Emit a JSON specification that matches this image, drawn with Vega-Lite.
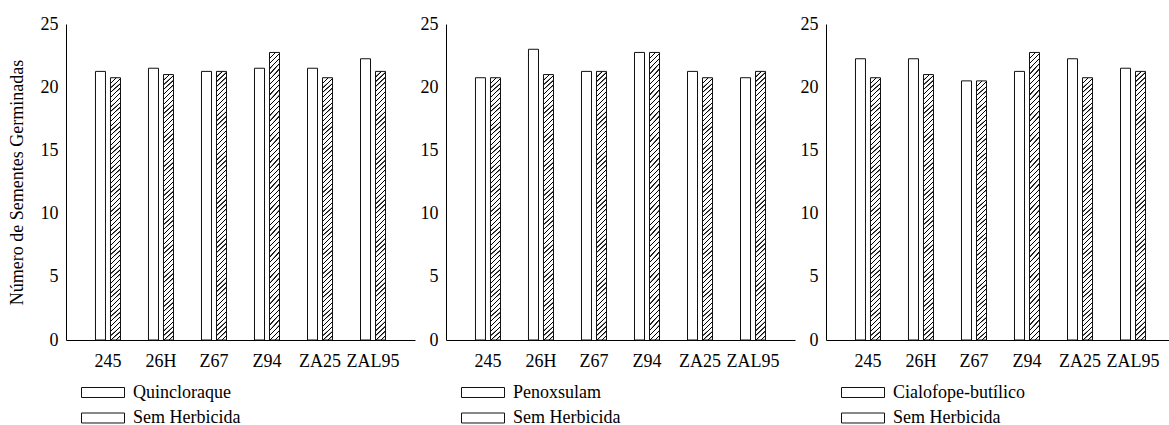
{
"$schema": "https://vega.github.io/schema/vega-lite/v6.json",
"background": "white",
"padding": {"left": 8, "top": 15, "right": 0, "bottom": 0},
"data": {"values": [
{"painel": 1, "cultivar": "245", "tratamento": "Quincloraque", "valor": 21.25},
{"painel": 1, "cultivar": "26H", "tratamento": "Quincloraque", "valor": 21.5},
{"painel": 1, "cultivar": "Z67", "tratamento": "Quincloraque", "valor": 21.25},
{"painel": 1, "cultivar": "Z94", "tratamento": "Quincloraque", "valor": 21.5},
{"painel": 1, "cultivar": "ZA25", "tratamento": "Quincloraque", "valor": 21.5},
{"painel": 1, "cultivar": "ZAL95", "tratamento": "Quincloraque", "valor": 22.25},
{"painel": 1, "cultivar": "245", "tratamento": "Sem Herbicida", "valor": 20.75},
{"painel": 1, "cultivar": "26H", "tratamento": "Sem Herbicida", "valor": 21.0},
{"painel": 1, "cultivar": "Z67", "tratamento": "Sem Herbicida", "valor": 21.25},
{"painel": 1, "cultivar": "Z94", "tratamento": "Sem Herbicida", "valor": 22.75},
{"painel": 1, "cultivar": "ZA25", "tratamento": "Sem Herbicida", "valor": 20.75},
{"painel": 1, "cultivar": "ZAL95", "tratamento": "Sem Herbicida", "valor": 21.25},
{"painel": 2, "cultivar": "245", "tratamento": "Penoxsulam", "valor": 20.75},
{"painel": 2, "cultivar": "26H", "tratamento": "Penoxsulam", "valor": 23.0},
{"painel": 2, "cultivar": "Z67", "tratamento": "Penoxsulam", "valor": 21.25},
{"painel": 2, "cultivar": "Z94", "tratamento": "Penoxsulam", "valor": 22.75},
{"painel": 2, "cultivar": "ZA25", "tratamento": "Penoxsulam", "valor": 21.25},
{"painel": 2, "cultivar": "ZAL95", "tratamento": "Penoxsulam", "valor": 20.75},
{"painel": 2, "cultivar": "245", "tratamento": "Sem Herbicida", "valor": 20.75},
{"painel": 2, "cultivar": "26H", "tratamento": "Sem Herbicida", "valor": 21.0},
{"painel": 2, "cultivar": "Z67", "tratamento": "Sem Herbicida", "valor": 21.25},
{"painel": 2, "cultivar": "Z94", "tratamento": "Sem Herbicida", "valor": 22.75},
{"painel": 2, "cultivar": "ZA25", "tratamento": "Sem Herbicida", "valor": 20.75},
{"painel": 2, "cultivar": "ZAL95", "tratamento": "Sem Herbicida", "valor": 21.25},
{"painel": 3, "cultivar": "245", "tratamento": "Cialofope-butílico", "valor": 22.25},
{"painel": 3, "cultivar": "26H", "tratamento": "Cialofope-butílico", "valor": 22.25},
{"painel": 3, "cultivar": "Z67", "tratamento": "Cialofope-butílico", "valor": 20.5},
{"painel": 3, "cultivar": "Z94", "tratamento": "Cialofope-butílico", "valor": 21.25},
{"painel": 3, "cultivar": "ZA25", "tratamento": "Cialofope-butílico", "valor": 22.25},
{"painel": 3, "cultivar": "ZAL95", "tratamento": "Cialofope-butílico", "valor": 21.5},
{"painel": 3, "cultivar": "245", "tratamento": "Sem Herbicida", "valor": 20.75},
{"painel": 3, "cultivar": "26H", "tratamento": "Sem Herbicida", "valor": 21.0},
{"painel": 3, "cultivar": "Z67", "tratamento": "Sem Herbicida", "valor": 20.5},
{"painel": 3, "cultivar": "Z94", "tratamento": "Sem Herbicida", "valor": 22.75},
{"painel": 3, "cultivar": "ZA25", "tratamento": "Sem Herbicida", "valor": 20.75},
{"painel": 3, "cultivar": "ZAL95", "tratamento": "Sem Herbicida", "valor": 21.25}
]},
"spacing": 31,
"bounds": "flush",
"resolve": {"scale": {"fill": "independent", "x": "independent", "y": "independent", "xOffset": "independent"}},
"hconcat": [
{
"width": 349, "height": 316,
"transform": [{"filter": "datum.painel === 1"}],
"mark": {"type": "bar", "stroke": "#111", "strokeWidth": 1},
"encoding": {
"x": {"field": "cultivar", "type": "nominal", "sort": ["245","26H","Z67","Z94","ZA25","ZAL95"], "scale": {"paddingInner": 0.528, "paddingOuter": 0.556}, "axis": {"title": null, "labelAngle": 0, "labelPadding": 12, "labelFont": "Liberation Serif", "labelFontSize": 18, "labelColor": "#000"}},
"xOffset": {"field": "tratamento", "type": "nominal", "scale": {"paddingInner": 0.3333, "paddingOuter": 0}},
"y": {"field": "valor", "type": "quantitative", "scale": {"domain": [0, 25]}, "axis": {"values": [0,5,10,15,20,25], "title": "Número de Sementes Germinadas", "labelPadding": 8, "titlePadding": 14, "labelFont": "Liberation Serif", "labelFontSize": 18, "labelColor": "#000"}},
"fill": {"condition": {"test": "datum.tratamento === 'Sem Herbicida'", "value": {"gradient": "linear", "x1": 0, "y1": 0, "x2": 0.0396, "y2": 1.0894, "stops": [
{"offset":0,"color":"#fff"},{"offset":0.001,"color":"#000"},{"offset":0.004,"color":"#000"},{"offset":0.005,"color":"#fff"},
{"offset":0.0167,"color":"#fff"},{"offset":0.0177,"color":"#000"},{"offset":0.0207,"color":"#000"},{"offset":0.0217,"color":"#fff"},
{"offset":0.0333,"color":"#fff"},{"offset":0.0343,"color":"#000"},{"offset":0.0373,"color":"#000"},{"offset":0.0383,"color":"#fff"},
{"offset":0.05,"color":"#fff"},{"offset":0.051,"color":"#000"},{"offset":0.054,"color":"#000"},{"offset":0.055,"color":"#fff"},
{"offset":0.0667,"color":"#fff"},{"offset":0.0677,"color":"#000"},{"offset":0.0707,"color":"#000"},{"offset":0.0717,"color":"#fff"},
{"offset":0.0833,"color":"#fff"},{"offset":0.0843,"color":"#000"},{"offset":0.0873,"color":"#000"},{"offset":0.0883,"color":"#fff"},
{"offset":0.1,"color":"#fff"},{"offset":0.101,"color":"#000"},{"offset":0.104,"color":"#000"},{"offset":0.105,"color":"#fff"},
{"offset":0.1167,"color":"#fff"},{"offset":0.1177,"color":"#000"},{"offset":0.1207,"color":"#000"},{"offset":0.1217,"color":"#fff"},
{"offset":0.1333,"color":"#fff"},{"offset":0.1343,"color":"#000"},{"offset":0.1373,"color":"#000"},{"offset":0.1383,"color":"#fff"},
{"offset":0.15,"color":"#fff"},{"offset":0.151,"color":"#000"},{"offset":0.154,"color":"#000"},{"offset":0.155,"color":"#fff"},
{"offset":0.1667,"color":"#fff"},{"offset":0.1677,"color":"#000"},{"offset":0.1707,"color":"#000"},{"offset":0.1717,"color":"#fff"},
{"offset":0.1833,"color":"#fff"},{"offset":0.1843,"color":"#000"},{"offset":0.1873,"color":"#000"},{"offset":0.1883,"color":"#fff"},
{"offset":0.2,"color":"#fff"},{"offset":0.201,"color":"#000"},{"offset":0.204,"color":"#000"},{"offset":0.205,"color":"#fff"},
{"offset":0.2167,"color":"#fff"},{"offset":0.2177,"color":"#000"},{"offset":0.2207,"color":"#000"},{"offset":0.2217,"color":"#fff"},
{"offset":0.2333,"color":"#fff"},{"offset":0.2343,"color":"#000"},{"offset":0.2373,"color":"#000"},{"offset":0.2383,"color":"#fff"},
{"offset":0.25,"color":"#fff"},{"offset":0.251,"color":"#000"},{"offset":0.254,"color":"#000"},{"offset":0.255,"color":"#fff"},
{"offset":0.2667,"color":"#fff"},{"offset":0.2677,"color":"#000"},{"offset":0.2707,"color":"#000"},{"offset":0.2717,"color":"#fff"},
{"offset":0.2833,"color":"#fff"},{"offset":0.2843,"color":"#000"},{"offset":0.2873,"color":"#000"},{"offset":0.2883,"color":"#fff"},
{"offset":0.3,"color":"#fff"},{"offset":0.301,"color":"#000"},{"offset":0.304,"color":"#000"},{"offset":0.305,"color":"#fff"},
{"offset":0.3167,"color":"#fff"},{"offset":0.3177,"color":"#000"},{"offset":0.3207,"color":"#000"},{"offset":0.3217,"color":"#fff"},
{"offset":0.3333,"color":"#fff"},{"offset":0.3343,"color":"#000"},{"offset":0.3373,"color":"#000"},{"offset":0.3383,"color":"#fff"},
{"offset":0.35,"color":"#fff"},{"offset":0.351,"color":"#000"},{"offset":0.354,"color":"#000"},{"offset":0.355,"color":"#fff"},
{"offset":0.3667,"color":"#fff"},{"offset":0.3677,"color":"#000"},{"offset":0.3707,"color":"#000"},{"offset":0.3717,"color":"#fff"},
{"offset":0.3833,"color":"#fff"},{"offset":0.3843,"color":"#000"},{"offset":0.3873,"color":"#000"},{"offset":0.3883,"color":"#fff"},
{"offset":0.4,"color":"#fff"},{"offset":0.401,"color":"#000"},{"offset":0.404,"color":"#000"},{"offset":0.405,"color":"#fff"},
{"offset":0.4167,"color":"#fff"},{"offset":0.4177,"color":"#000"},{"offset":0.4207,"color":"#000"},{"offset":0.4217,"color":"#fff"},
{"offset":0.4333,"color":"#fff"},{"offset":0.4343,"color":"#000"},{"offset":0.4373,"color":"#000"},{"offset":0.4383,"color":"#fff"},
{"offset":0.45,"color":"#fff"},{"offset":0.451,"color":"#000"},{"offset":0.454,"color":"#000"},{"offset":0.455,"color":"#fff"},
{"offset":0.4667,"color":"#fff"},{"offset":0.4677,"color":"#000"},{"offset":0.4707,"color":"#000"},{"offset":0.4717,"color":"#fff"},
{"offset":0.4833,"color":"#fff"},{"offset":0.4843,"color":"#000"},{"offset":0.4873,"color":"#000"},{"offset":0.4883,"color":"#fff"},
{"offset":0.5,"color":"#fff"},{"offset":0.501,"color":"#000"},{"offset":0.504,"color":"#000"},{"offset":0.505,"color":"#fff"},
{"offset":0.5167,"color":"#fff"},{"offset":0.5177,"color":"#000"},{"offset":0.5207,"color":"#000"},{"offset":0.5217,"color":"#fff"},
{"offset":0.5333,"color":"#fff"},{"offset":0.5343,"color":"#000"},{"offset":0.5373,"color":"#000"},{"offset":0.5383,"color":"#fff"},
{"offset":0.55,"color":"#fff"},{"offset":0.551,"color":"#000"},{"offset":0.554,"color":"#000"},{"offset":0.555,"color":"#fff"},
{"offset":0.5667,"color":"#fff"},{"offset":0.5677,"color":"#000"},{"offset":0.5707,"color":"#000"},{"offset":0.5717,"color":"#fff"},
{"offset":0.5833,"color":"#fff"},{"offset":0.5843,"color":"#000"},{"offset":0.5873,"color":"#000"},{"offset":0.5883,"color":"#fff"},
{"offset":0.6,"color":"#fff"},{"offset":0.601,"color":"#000"},{"offset":0.604,"color":"#000"},{"offset":0.605,"color":"#fff"},
{"offset":0.6167,"color":"#fff"},{"offset":0.6177,"color":"#000"},{"offset":0.6207,"color":"#000"},{"offset":0.6217,"color":"#fff"},
{"offset":0.6333,"color":"#fff"},{"offset":0.6343,"color":"#000"},{"offset":0.6373,"color":"#000"},{"offset":0.6383,"color":"#fff"},
{"offset":0.65,"color":"#fff"},{"offset":0.651,"color":"#000"},{"offset":0.654,"color":"#000"},{"offset":0.655,"color":"#fff"},
{"offset":0.6667,"color":"#fff"},{"offset":0.6677,"color":"#000"},{"offset":0.6707,"color":"#000"},{"offset":0.6717,"color":"#fff"},
{"offset":0.6833,"color":"#fff"},{"offset":0.6843,"color":"#000"},{"offset":0.6873,"color":"#000"},{"offset":0.6883,"color":"#fff"},
{"offset":0.7,"color":"#fff"},{"offset":0.701,"color":"#000"},{"offset":0.704,"color":"#000"},{"offset":0.705,"color":"#fff"},
{"offset":0.7167,"color":"#fff"},{"offset":0.7177,"color":"#000"},{"offset":0.7207,"color":"#000"},{"offset":0.7217,"color":"#fff"},
{"offset":0.7333,"color":"#fff"},{"offset":0.7343,"color":"#000"},{"offset":0.7373,"color":"#000"},{"offset":0.7383,"color":"#fff"},
{"offset":0.75,"color":"#fff"},{"offset":0.751,"color":"#000"},{"offset":0.754,"color":"#000"},{"offset":0.755,"color":"#fff"},
{"offset":0.7667,"color":"#fff"},{"offset":0.7677,"color":"#000"},{"offset":0.7707,"color":"#000"},{"offset":0.7717,"color":"#fff"},
{"offset":0.7833,"color":"#fff"},{"offset":0.7843,"color":"#000"},{"offset":0.7873,"color":"#000"},{"offset":0.7883,"color":"#fff"},
{"offset":0.8,"color":"#fff"},{"offset":0.801,"color":"#000"},{"offset":0.804,"color":"#000"},{"offset":0.805,"color":"#fff"},
{"offset":0.8167,"color":"#fff"},{"offset":0.8177,"color":"#000"},{"offset":0.8207,"color":"#000"},{"offset":0.8217,"color":"#fff"},
{"offset":0.8333,"color":"#fff"},{"offset":0.8343,"color":"#000"},{"offset":0.8373,"color":"#000"},{"offset":0.8383,"color":"#fff"},
{"offset":0.85,"color":"#fff"},{"offset":0.851,"color":"#000"},{"offset":0.854,"color":"#000"},{"offset":0.855,"color":"#fff"},
{"offset":0.8667,"color":"#fff"},{"offset":0.8677,"color":"#000"},{"offset":0.8707,"color":"#000"},{"offset":0.8717,"color":"#fff"},
{"offset":0.8833,"color":"#fff"},{"offset":0.8843,"color":"#000"},{"offset":0.8873,"color":"#000"},{"offset":0.8883,"color":"#fff"},
{"offset":0.9,"color":"#fff"},{"offset":0.901,"color":"#000"},{"offset":0.904,"color":"#000"},{"offset":0.905,"color":"#fff"},
{"offset":0.9167,"color":"#fff"},{"offset":0.9177,"color":"#000"},{"offset":0.9207,"color":"#000"},{"offset":0.9217,"color":"#fff"},
{"offset":0.9333,"color":"#fff"},{"offset":0.9343,"color":"#000"},{"offset":0.9373,"color":"#000"},{"offset":0.9383,"color":"#fff"},
{"offset":0.95,"color":"#fff"},{"offset":0.951,"color":"#000"},{"offset":0.954,"color":"#000"},{"offset":0.955,"color":"#fff"},
{"offset":0.9667,"color":"#fff"},{"offset":0.9677,"color":"#000"},{"offset":0.9707,"color":"#000"},{"offset":0.9717,"color":"#fff"},
{"offset":0.9833,"color":"#fff"},{"offset":0.9843,"color":"#000"},{"offset":0.9873,"color":"#000"},{"offset":0.9883,"color":"#fff"},
{"offset":1,"color":"#fff"}]}},
"field": "tratamento", "type": "nominal", "scale": {"range": ["#fff", "#fff"]}, "legend": {"title": null, "orient": "bottom", "direction": "vertical", "symbolType": "M-2,-0.465H2V0.465H-2Z", "symbolSize": 462.25, "symbolStrokeColor": "#111", "symbolStrokeWidth": 1, "symbolOffset": 25.5, "labelOffset": 18.5, "labelFont": "Liberation Serif", "labelFontSize": 18, "labelColor": "#000", "rowPadding": 4.5, "offset": 11,
"encode": {"symbols": {"update": {"shape": {"value": "M-2,-0.465H2V0.465H-2Z"}, "size": {"value": 462.25}, "stroke": {"value": "#111"}, "strokeWidth": {"value": 1}, "opacity": {"value": 1}, "fillOpacity": {"value": 1}, "strokeOpacity": {"value": 1}, "fill": {"condition": {"test": "datum.value === 'Sem Herbicida'", "value": {"gradient": "linear", "x1": 0, "y1": 0, "x2": 1.2135, "y2": 0.2822, "stops": [
{"offset":0,"color":"#fff"},{"offset":0.0055,"color":"#000"},{"offset":0.0218,"color":"#000"},{"offset":0.0273,"color":"#fff"},
{"offset":0.0909,"color":"#fff"},{"offset":0.0964,"color":"#000"},{"offset":0.1127,"color":"#000"},{"offset":0.1182,"color":"#fff"},
{"offset":0.1818,"color":"#fff"},{"offset":0.1873,"color":"#000"},{"offset":0.2036,"color":"#000"},{"offset":0.2091,"color":"#fff"},
{"offset":0.2727,"color":"#fff"},{"offset":0.2782,"color":"#000"},{"offset":0.2945,"color":"#000"},{"offset":0.3,"color":"#fff"},
{"offset":0.3636,"color":"#fff"},{"offset":0.3691,"color":"#000"},{"offset":0.3854,"color":"#000"},{"offset":0.3909,"color":"#fff"},
{"offset":0.4545,"color":"#fff"},{"offset":0.46,"color":"#000"},{"offset":0.4763,"color":"#000"},{"offset":0.4818,"color":"#fff"},
{"offset":0.5455,"color":"#fff"},{"offset":0.551,"color":"#000"},{"offset":0.5673,"color":"#000"},{"offset":0.5728,"color":"#fff"},
{"offset":0.6364,"color":"#fff"},{"offset":0.6419,"color":"#000"},{"offset":0.6582,"color":"#000"},{"offset":0.6637,"color":"#fff"},
{"offset":0.7273,"color":"#fff"},{"offset":0.7328,"color":"#000"},{"offset":0.7491,"color":"#000"},{"offset":0.7546,"color":"#fff"},
{"offset":0.8182,"color":"#fff"},{"offset":0.8237,"color":"#000"},{"offset":0.84,"color":"#000"},{"offset":0.8455,"color":"#fff"},
{"offset":0.9091,"color":"#fff"},{"offset":0.9146,"color":"#000"},{"offset":0.9309,"color":"#000"},{"offset":0.9364,"color":"#fff"},
{"offset":1,"color":"#fff"}]}}, "value": "#fff"}}}}}}
}
},
{
"width": 349, "height": 316,
"transform": [{"filter": "datum.painel === 2"}],
"mark": {"type": "bar", "stroke": "#111", "strokeWidth": 1},
"encoding": {
"x": {"field": "cultivar", "type": "nominal", "sort": ["245","26H","Z67","Z94","ZA25","ZAL95"], "scale": {"paddingInner": 0.528, "paddingOuter": 0.556}, "axis": {"title": null, "labelAngle": 0, "labelPadding": 12, "labelFont": "Liberation Serif", "labelFontSize": 18, "labelColor": "#000"}},
"xOffset": {"field": "tratamento", "type": "nominal", "scale": {"paddingInner": 0.3333, "paddingOuter": 0}},
"y": {"field": "valor", "type": "quantitative", "scale": {"domain": [0, 25]}, "axis": {"values": [0,5,10,15,20,25], "title": null, "labelPadding": 8, "labelFont": "Liberation Serif", "labelFontSize": 18, "labelColor": "#000"}},
"fill": {"condition": {"test": "datum.tratamento === 'Sem Herbicida'", "value": {"gradient": "linear", "x1": 0, "y1": 0, "x2": 0.0396, "y2": 1.0894, "stops": [
{"offset":0,"color":"#fff"},{"offset":0.001,"color":"#000"},{"offset":0.004,"color":"#000"},{"offset":0.005,"color":"#fff"},
{"offset":0.0167,"color":"#fff"},{"offset":0.0177,"color":"#000"},{"offset":0.0207,"color":"#000"},{"offset":0.0217,"color":"#fff"},
{"offset":0.0333,"color":"#fff"},{"offset":0.0343,"color":"#000"},{"offset":0.0373,"color":"#000"},{"offset":0.0383,"color":"#fff"},
{"offset":0.05,"color":"#fff"},{"offset":0.051,"color":"#000"},{"offset":0.054,"color":"#000"},{"offset":0.055,"color":"#fff"},
{"offset":0.0667,"color":"#fff"},{"offset":0.0677,"color":"#000"},{"offset":0.0707,"color":"#000"},{"offset":0.0717,"color":"#fff"},
{"offset":0.0833,"color":"#fff"},{"offset":0.0843,"color":"#000"},{"offset":0.0873,"color":"#000"},{"offset":0.0883,"color":"#fff"},
{"offset":0.1,"color":"#fff"},{"offset":0.101,"color":"#000"},{"offset":0.104,"color":"#000"},{"offset":0.105,"color":"#fff"},
{"offset":0.1167,"color":"#fff"},{"offset":0.1177,"color":"#000"},{"offset":0.1207,"color":"#000"},{"offset":0.1217,"color":"#fff"},
{"offset":0.1333,"color":"#fff"},{"offset":0.1343,"color":"#000"},{"offset":0.1373,"color":"#000"},{"offset":0.1383,"color":"#fff"},
{"offset":0.15,"color":"#fff"},{"offset":0.151,"color":"#000"},{"offset":0.154,"color":"#000"},{"offset":0.155,"color":"#fff"},
{"offset":0.1667,"color":"#fff"},{"offset":0.1677,"color":"#000"},{"offset":0.1707,"color":"#000"},{"offset":0.1717,"color":"#fff"},
{"offset":0.1833,"color":"#fff"},{"offset":0.1843,"color":"#000"},{"offset":0.1873,"color":"#000"},{"offset":0.1883,"color":"#fff"},
{"offset":0.2,"color":"#fff"},{"offset":0.201,"color":"#000"},{"offset":0.204,"color":"#000"},{"offset":0.205,"color":"#fff"},
{"offset":0.2167,"color":"#fff"},{"offset":0.2177,"color":"#000"},{"offset":0.2207,"color":"#000"},{"offset":0.2217,"color":"#fff"},
{"offset":0.2333,"color":"#fff"},{"offset":0.2343,"color":"#000"},{"offset":0.2373,"color":"#000"},{"offset":0.2383,"color":"#fff"},
{"offset":0.25,"color":"#fff"},{"offset":0.251,"color":"#000"},{"offset":0.254,"color":"#000"},{"offset":0.255,"color":"#fff"},
{"offset":0.2667,"color":"#fff"},{"offset":0.2677,"color":"#000"},{"offset":0.2707,"color":"#000"},{"offset":0.2717,"color":"#fff"},
{"offset":0.2833,"color":"#fff"},{"offset":0.2843,"color":"#000"},{"offset":0.2873,"color":"#000"},{"offset":0.2883,"color":"#fff"},
{"offset":0.3,"color":"#fff"},{"offset":0.301,"color":"#000"},{"offset":0.304,"color":"#000"},{"offset":0.305,"color":"#fff"},
{"offset":0.3167,"color":"#fff"},{"offset":0.3177,"color":"#000"},{"offset":0.3207,"color":"#000"},{"offset":0.3217,"color":"#fff"},
{"offset":0.3333,"color":"#fff"},{"offset":0.3343,"color":"#000"},{"offset":0.3373,"color":"#000"},{"offset":0.3383,"color":"#fff"},
{"offset":0.35,"color":"#fff"},{"offset":0.351,"color":"#000"},{"offset":0.354,"color":"#000"},{"offset":0.355,"color":"#fff"},
{"offset":0.3667,"color":"#fff"},{"offset":0.3677,"color":"#000"},{"offset":0.3707,"color":"#000"},{"offset":0.3717,"color":"#fff"},
{"offset":0.3833,"color":"#fff"},{"offset":0.3843,"color":"#000"},{"offset":0.3873,"color":"#000"},{"offset":0.3883,"color":"#fff"},
{"offset":0.4,"color":"#fff"},{"offset":0.401,"color":"#000"},{"offset":0.404,"color":"#000"},{"offset":0.405,"color":"#fff"},
{"offset":0.4167,"color":"#fff"},{"offset":0.4177,"color":"#000"},{"offset":0.4207,"color":"#000"},{"offset":0.4217,"color":"#fff"},
{"offset":0.4333,"color":"#fff"},{"offset":0.4343,"color":"#000"},{"offset":0.4373,"color":"#000"},{"offset":0.4383,"color":"#fff"},
{"offset":0.45,"color":"#fff"},{"offset":0.451,"color":"#000"},{"offset":0.454,"color":"#000"},{"offset":0.455,"color":"#fff"},
{"offset":0.4667,"color":"#fff"},{"offset":0.4677,"color":"#000"},{"offset":0.4707,"color":"#000"},{"offset":0.4717,"color":"#fff"},
{"offset":0.4833,"color":"#fff"},{"offset":0.4843,"color":"#000"},{"offset":0.4873,"color":"#000"},{"offset":0.4883,"color":"#fff"},
{"offset":0.5,"color":"#fff"},{"offset":0.501,"color":"#000"},{"offset":0.504,"color":"#000"},{"offset":0.505,"color":"#fff"},
{"offset":0.5167,"color":"#fff"},{"offset":0.5177,"color":"#000"},{"offset":0.5207,"color":"#000"},{"offset":0.5217,"color":"#fff"},
{"offset":0.5333,"color":"#fff"},{"offset":0.5343,"color":"#000"},{"offset":0.5373,"color":"#000"},{"offset":0.5383,"color":"#fff"},
{"offset":0.55,"color":"#fff"},{"offset":0.551,"color":"#000"},{"offset":0.554,"color":"#000"},{"offset":0.555,"color":"#fff"},
{"offset":0.5667,"color":"#fff"},{"offset":0.5677,"color":"#000"},{"offset":0.5707,"color":"#000"},{"offset":0.5717,"color":"#fff"},
{"offset":0.5833,"color":"#fff"},{"offset":0.5843,"color":"#000"},{"offset":0.5873,"color":"#000"},{"offset":0.5883,"color":"#fff"},
{"offset":0.6,"color":"#fff"},{"offset":0.601,"color":"#000"},{"offset":0.604,"color":"#000"},{"offset":0.605,"color":"#fff"},
{"offset":0.6167,"color":"#fff"},{"offset":0.6177,"color":"#000"},{"offset":0.6207,"color":"#000"},{"offset":0.6217,"color":"#fff"},
{"offset":0.6333,"color":"#fff"},{"offset":0.6343,"color":"#000"},{"offset":0.6373,"color":"#000"},{"offset":0.6383,"color":"#fff"},
{"offset":0.65,"color":"#fff"},{"offset":0.651,"color":"#000"},{"offset":0.654,"color":"#000"},{"offset":0.655,"color":"#fff"},
{"offset":0.6667,"color":"#fff"},{"offset":0.6677,"color":"#000"},{"offset":0.6707,"color":"#000"},{"offset":0.6717,"color":"#fff"},
{"offset":0.6833,"color":"#fff"},{"offset":0.6843,"color":"#000"},{"offset":0.6873,"color":"#000"},{"offset":0.6883,"color":"#fff"},
{"offset":0.7,"color":"#fff"},{"offset":0.701,"color":"#000"},{"offset":0.704,"color":"#000"},{"offset":0.705,"color":"#fff"},
{"offset":0.7167,"color":"#fff"},{"offset":0.7177,"color":"#000"},{"offset":0.7207,"color":"#000"},{"offset":0.7217,"color":"#fff"},
{"offset":0.7333,"color":"#fff"},{"offset":0.7343,"color":"#000"},{"offset":0.7373,"color":"#000"},{"offset":0.7383,"color":"#fff"},
{"offset":0.75,"color":"#fff"},{"offset":0.751,"color":"#000"},{"offset":0.754,"color":"#000"},{"offset":0.755,"color":"#fff"},
{"offset":0.7667,"color":"#fff"},{"offset":0.7677,"color":"#000"},{"offset":0.7707,"color":"#000"},{"offset":0.7717,"color":"#fff"},
{"offset":0.7833,"color":"#fff"},{"offset":0.7843,"color":"#000"},{"offset":0.7873,"color":"#000"},{"offset":0.7883,"color":"#fff"},
{"offset":0.8,"color":"#fff"},{"offset":0.801,"color":"#000"},{"offset":0.804,"color":"#000"},{"offset":0.805,"color":"#fff"},
{"offset":0.8167,"color":"#fff"},{"offset":0.8177,"color":"#000"},{"offset":0.8207,"color":"#000"},{"offset":0.8217,"color":"#fff"},
{"offset":0.8333,"color":"#fff"},{"offset":0.8343,"color":"#000"},{"offset":0.8373,"color":"#000"},{"offset":0.8383,"color":"#fff"},
{"offset":0.85,"color":"#fff"},{"offset":0.851,"color":"#000"},{"offset":0.854,"color":"#000"},{"offset":0.855,"color":"#fff"},
{"offset":0.8667,"color":"#fff"},{"offset":0.8677,"color":"#000"},{"offset":0.8707,"color":"#000"},{"offset":0.8717,"color":"#fff"},
{"offset":0.8833,"color":"#fff"},{"offset":0.8843,"color":"#000"},{"offset":0.8873,"color":"#000"},{"offset":0.8883,"color":"#fff"},
{"offset":0.9,"color":"#fff"},{"offset":0.901,"color":"#000"},{"offset":0.904,"color":"#000"},{"offset":0.905,"color":"#fff"},
{"offset":0.9167,"color":"#fff"},{"offset":0.9177,"color":"#000"},{"offset":0.9207,"color":"#000"},{"offset":0.9217,"color":"#fff"},
{"offset":0.9333,"color":"#fff"},{"offset":0.9343,"color":"#000"},{"offset":0.9373,"color":"#000"},{"offset":0.9383,"color":"#fff"},
{"offset":0.95,"color":"#fff"},{"offset":0.951,"color":"#000"},{"offset":0.954,"color":"#000"},{"offset":0.955,"color":"#fff"},
{"offset":0.9667,"color":"#fff"},{"offset":0.9677,"color":"#000"},{"offset":0.9707,"color":"#000"},{"offset":0.9717,"color":"#fff"},
{"offset":0.9833,"color":"#fff"},{"offset":0.9843,"color":"#000"},{"offset":0.9873,"color":"#000"},{"offset":0.9883,"color":"#fff"},
{"offset":1,"color":"#fff"}]}},
"field": "tratamento", "type": "nominal", "scale": {"range": ["#fff", "#fff"]}, "legend": {"title": null, "orient": "bottom", "direction": "vertical", "symbolType": "M-2,-0.465H2V0.465H-2Z", "symbolSize": 462.25, "symbolStrokeColor": "#111", "symbolStrokeWidth": 1, "symbolOffset": 25.5, "labelOffset": 18.5, "labelFont": "Liberation Serif", "labelFontSize": 18, "labelColor": "#000", "rowPadding": 4.5, "offset": 11,
"encode": {"symbols": {"update": {"shape": {"value": "M-2,-0.465H2V0.465H-2Z"}, "size": {"value": 462.25}, "stroke": {"value": "#111"}, "strokeWidth": {"value": 1}, "opacity": {"value": 1}, "fillOpacity": {"value": 1}, "strokeOpacity": {"value": 1}, "fill": {"condition": {"test": "datum.value === 'Sem Herbicida'", "value": {"gradient": "linear", "x1": 0, "y1": 0, "x2": 1.2135, "y2": 0.2822, "stops": [
{"offset":0,"color":"#fff"},{"offset":0.0055,"color":"#000"},{"offset":0.0218,"color":"#000"},{"offset":0.0273,"color":"#fff"},
{"offset":0.0909,"color":"#fff"},{"offset":0.0964,"color":"#000"},{"offset":0.1127,"color":"#000"},{"offset":0.1182,"color":"#fff"},
{"offset":0.1818,"color":"#fff"},{"offset":0.1873,"color":"#000"},{"offset":0.2036,"color":"#000"},{"offset":0.2091,"color":"#fff"},
{"offset":0.2727,"color":"#fff"},{"offset":0.2782,"color":"#000"},{"offset":0.2945,"color":"#000"},{"offset":0.3,"color":"#fff"},
{"offset":0.3636,"color":"#fff"},{"offset":0.3691,"color":"#000"},{"offset":0.3854,"color":"#000"},{"offset":0.3909,"color":"#fff"},
{"offset":0.4545,"color":"#fff"},{"offset":0.46,"color":"#000"},{"offset":0.4763,"color":"#000"},{"offset":0.4818,"color":"#fff"},
{"offset":0.5455,"color":"#fff"},{"offset":0.551,"color":"#000"},{"offset":0.5673,"color":"#000"},{"offset":0.5728,"color":"#fff"},
{"offset":0.6364,"color":"#fff"},{"offset":0.6419,"color":"#000"},{"offset":0.6582,"color":"#000"},{"offset":0.6637,"color":"#fff"},
{"offset":0.7273,"color":"#fff"},{"offset":0.7328,"color":"#000"},{"offset":0.7491,"color":"#000"},{"offset":0.7546,"color":"#fff"},
{"offset":0.8182,"color":"#fff"},{"offset":0.8237,"color":"#000"},{"offset":0.84,"color":"#000"},{"offset":0.8455,"color":"#fff"},
{"offset":0.9091,"color":"#fff"},{"offset":0.9146,"color":"#000"},{"offset":0.9309,"color":"#000"},{"offset":0.9364,"color":"#fff"},
{"offset":1,"color":"#fff"}]}}, "value": "#fff"}}}}}}
}
},
{
"width": 349, "height": 316,
"transform": [{"filter": "datum.painel === 3"}],
"mark": {"type": "bar", "stroke": "#111", "strokeWidth": 1},
"encoding": {
"x": {"field": "cultivar", "type": "nominal", "sort": ["245","26H","Z67","Z94","ZA25","ZAL95"], "scale": {"paddingInner": 0.528, "paddingOuter": 0.556}, "axis": {"title": null, "labelAngle": 0, "labelPadding": 12, "labelFont": "Liberation Serif", "labelFontSize": 18, "labelColor": "#000"}},
"xOffset": {"field": "tratamento", "type": "nominal", "scale": {"paddingInner": 0.3333, "paddingOuter": 0}},
"y": {"field": "valor", "type": "quantitative", "scale": {"domain": [0, 25]}, "axis": {"values": [0,5,10,15,20,25], "title": null, "labelPadding": 8, "labelFont": "Liberation Serif", "labelFontSize": 18, "labelColor": "#000"}},
"fill": {"condition": {"test": "datum.tratamento === 'Sem Herbicida'", "value": {"gradient": "linear", "x1": 0, "y1": 0, "x2": 0.0396, "y2": 1.0894, "stops": [
{"offset":0,"color":"#fff"},{"offset":0.001,"color":"#000"},{"offset":0.004,"color":"#000"},{"offset":0.005,"color":"#fff"},
{"offset":0.0167,"color":"#fff"},{"offset":0.0177,"color":"#000"},{"offset":0.0207,"color":"#000"},{"offset":0.0217,"color":"#fff"},
{"offset":0.0333,"color":"#fff"},{"offset":0.0343,"color":"#000"},{"offset":0.0373,"color":"#000"},{"offset":0.0383,"color":"#fff"},
{"offset":0.05,"color":"#fff"},{"offset":0.051,"color":"#000"},{"offset":0.054,"color":"#000"},{"offset":0.055,"color":"#fff"},
{"offset":0.0667,"color":"#fff"},{"offset":0.0677,"color":"#000"},{"offset":0.0707,"color":"#000"},{"offset":0.0717,"color":"#fff"},
{"offset":0.0833,"color":"#fff"},{"offset":0.0843,"color":"#000"},{"offset":0.0873,"color":"#000"},{"offset":0.0883,"color":"#fff"},
{"offset":0.1,"color":"#fff"},{"offset":0.101,"color":"#000"},{"offset":0.104,"color":"#000"},{"offset":0.105,"color":"#fff"},
{"offset":0.1167,"color":"#fff"},{"offset":0.1177,"color":"#000"},{"offset":0.1207,"color":"#000"},{"offset":0.1217,"color":"#fff"},
{"offset":0.1333,"color":"#fff"},{"offset":0.1343,"color":"#000"},{"offset":0.1373,"color":"#000"},{"offset":0.1383,"color":"#fff"},
{"offset":0.15,"color":"#fff"},{"offset":0.151,"color":"#000"},{"offset":0.154,"color":"#000"},{"offset":0.155,"color":"#fff"},
{"offset":0.1667,"color":"#fff"},{"offset":0.1677,"color":"#000"},{"offset":0.1707,"color":"#000"},{"offset":0.1717,"color":"#fff"},
{"offset":0.1833,"color":"#fff"},{"offset":0.1843,"color":"#000"},{"offset":0.1873,"color":"#000"},{"offset":0.1883,"color":"#fff"},
{"offset":0.2,"color":"#fff"},{"offset":0.201,"color":"#000"},{"offset":0.204,"color":"#000"},{"offset":0.205,"color":"#fff"},
{"offset":0.2167,"color":"#fff"},{"offset":0.2177,"color":"#000"},{"offset":0.2207,"color":"#000"},{"offset":0.2217,"color":"#fff"},
{"offset":0.2333,"color":"#fff"},{"offset":0.2343,"color":"#000"},{"offset":0.2373,"color":"#000"},{"offset":0.2383,"color":"#fff"},
{"offset":0.25,"color":"#fff"},{"offset":0.251,"color":"#000"},{"offset":0.254,"color":"#000"},{"offset":0.255,"color":"#fff"},
{"offset":0.2667,"color":"#fff"},{"offset":0.2677,"color":"#000"},{"offset":0.2707,"color":"#000"},{"offset":0.2717,"color":"#fff"},
{"offset":0.2833,"color":"#fff"},{"offset":0.2843,"color":"#000"},{"offset":0.2873,"color":"#000"},{"offset":0.2883,"color":"#fff"},
{"offset":0.3,"color":"#fff"},{"offset":0.301,"color":"#000"},{"offset":0.304,"color":"#000"},{"offset":0.305,"color":"#fff"},
{"offset":0.3167,"color":"#fff"},{"offset":0.3177,"color":"#000"},{"offset":0.3207,"color":"#000"},{"offset":0.3217,"color":"#fff"},
{"offset":0.3333,"color":"#fff"},{"offset":0.3343,"color":"#000"},{"offset":0.3373,"color":"#000"},{"offset":0.3383,"color":"#fff"},
{"offset":0.35,"color":"#fff"},{"offset":0.351,"color":"#000"},{"offset":0.354,"color":"#000"},{"offset":0.355,"color":"#fff"},
{"offset":0.3667,"color":"#fff"},{"offset":0.3677,"color":"#000"},{"offset":0.3707,"color":"#000"},{"offset":0.3717,"color":"#fff"},
{"offset":0.3833,"color":"#fff"},{"offset":0.3843,"color":"#000"},{"offset":0.3873,"color":"#000"},{"offset":0.3883,"color":"#fff"},
{"offset":0.4,"color":"#fff"},{"offset":0.401,"color":"#000"},{"offset":0.404,"color":"#000"},{"offset":0.405,"color":"#fff"},
{"offset":0.4167,"color":"#fff"},{"offset":0.4177,"color":"#000"},{"offset":0.4207,"color":"#000"},{"offset":0.4217,"color":"#fff"},
{"offset":0.4333,"color":"#fff"},{"offset":0.4343,"color":"#000"},{"offset":0.4373,"color":"#000"},{"offset":0.4383,"color":"#fff"},
{"offset":0.45,"color":"#fff"},{"offset":0.451,"color":"#000"},{"offset":0.454,"color":"#000"},{"offset":0.455,"color":"#fff"},
{"offset":0.4667,"color":"#fff"},{"offset":0.4677,"color":"#000"},{"offset":0.4707,"color":"#000"},{"offset":0.4717,"color":"#fff"},
{"offset":0.4833,"color":"#fff"},{"offset":0.4843,"color":"#000"},{"offset":0.4873,"color":"#000"},{"offset":0.4883,"color":"#fff"},
{"offset":0.5,"color":"#fff"},{"offset":0.501,"color":"#000"},{"offset":0.504,"color":"#000"},{"offset":0.505,"color":"#fff"},
{"offset":0.5167,"color":"#fff"},{"offset":0.5177,"color":"#000"},{"offset":0.5207,"color":"#000"},{"offset":0.5217,"color":"#fff"},
{"offset":0.5333,"color":"#fff"},{"offset":0.5343,"color":"#000"},{"offset":0.5373,"color":"#000"},{"offset":0.5383,"color":"#fff"},
{"offset":0.55,"color":"#fff"},{"offset":0.551,"color":"#000"},{"offset":0.554,"color":"#000"},{"offset":0.555,"color":"#fff"},
{"offset":0.5667,"color":"#fff"},{"offset":0.5677,"color":"#000"},{"offset":0.5707,"color":"#000"},{"offset":0.5717,"color":"#fff"},
{"offset":0.5833,"color":"#fff"},{"offset":0.5843,"color":"#000"},{"offset":0.5873,"color":"#000"},{"offset":0.5883,"color":"#fff"},
{"offset":0.6,"color":"#fff"},{"offset":0.601,"color":"#000"},{"offset":0.604,"color":"#000"},{"offset":0.605,"color":"#fff"},
{"offset":0.6167,"color":"#fff"},{"offset":0.6177,"color":"#000"},{"offset":0.6207,"color":"#000"},{"offset":0.6217,"color":"#fff"},
{"offset":0.6333,"color":"#fff"},{"offset":0.6343,"color":"#000"},{"offset":0.6373,"color":"#000"},{"offset":0.6383,"color":"#fff"},
{"offset":0.65,"color":"#fff"},{"offset":0.651,"color":"#000"},{"offset":0.654,"color":"#000"},{"offset":0.655,"color":"#fff"},
{"offset":0.6667,"color":"#fff"},{"offset":0.6677,"color":"#000"},{"offset":0.6707,"color":"#000"},{"offset":0.6717,"color":"#fff"},
{"offset":0.6833,"color":"#fff"},{"offset":0.6843,"color":"#000"},{"offset":0.6873,"color":"#000"},{"offset":0.6883,"color":"#fff"},
{"offset":0.7,"color":"#fff"},{"offset":0.701,"color":"#000"},{"offset":0.704,"color":"#000"},{"offset":0.705,"color":"#fff"},
{"offset":0.7167,"color":"#fff"},{"offset":0.7177,"color":"#000"},{"offset":0.7207,"color":"#000"},{"offset":0.7217,"color":"#fff"},
{"offset":0.7333,"color":"#fff"},{"offset":0.7343,"color":"#000"},{"offset":0.7373,"color":"#000"},{"offset":0.7383,"color":"#fff"},
{"offset":0.75,"color":"#fff"},{"offset":0.751,"color":"#000"},{"offset":0.754,"color":"#000"},{"offset":0.755,"color":"#fff"},
{"offset":0.7667,"color":"#fff"},{"offset":0.7677,"color":"#000"},{"offset":0.7707,"color":"#000"},{"offset":0.7717,"color":"#fff"},
{"offset":0.7833,"color":"#fff"},{"offset":0.7843,"color":"#000"},{"offset":0.7873,"color":"#000"},{"offset":0.7883,"color":"#fff"},
{"offset":0.8,"color":"#fff"},{"offset":0.801,"color":"#000"},{"offset":0.804,"color":"#000"},{"offset":0.805,"color":"#fff"},
{"offset":0.8167,"color":"#fff"},{"offset":0.8177,"color":"#000"},{"offset":0.8207,"color":"#000"},{"offset":0.8217,"color":"#fff"},
{"offset":0.8333,"color":"#fff"},{"offset":0.8343,"color":"#000"},{"offset":0.8373,"color":"#000"},{"offset":0.8383,"color":"#fff"},
{"offset":0.85,"color":"#fff"},{"offset":0.851,"color":"#000"},{"offset":0.854,"color":"#000"},{"offset":0.855,"color":"#fff"},
{"offset":0.8667,"color":"#fff"},{"offset":0.8677,"color":"#000"},{"offset":0.8707,"color":"#000"},{"offset":0.8717,"color":"#fff"},
{"offset":0.8833,"color":"#fff"},{"offset":0.8843,"color":"#000"},{"offset":0.8873,"color":"#000"},{"offset":0.8883,"color":"#fff"},
{"offset":0.9,"color":"#fff"},{"offset":0.901,"color":"#000"},{"offset":0.904,"color":"#000"},{"offset":0.905,"color":"#fff"},
{"offset":0.9167,"color":"#fff"},{"offset":0.9177,"color":"#000"},{"offset":0.9207,"color":"#000"},{"offset":0.9217,"color":"#fff"},
{"offset":0.9333,"color":"#fff"},{"offset":0.9343,"color":"#000"},{"offset":0.9373,"color":"#000"},{"offset":0.9383,"color":"#fff"},
{"offset":0.95,"color":"#fff"},{"offset":0.951,"color":"#000"},{"offset":0.954,"color":"#000"},{"offset":0.955,"color":"#fff"},
{"offset":0.9667,"color":"#fff"},{"offset":0.9677,"color":"#000"},{"offset":0.9707,"color":"#000"},{"offset":0.9717,"color":"#fff"},
{"offset":0.9833,"color":"#fff"},{"offset":0.9843,"color":"#000"},{"offset":0.9873,"color":"#000"},{"offset":0.9883,"color":"#fff"},
{"offset":1,"color":"#fff"}]}},
"field": "tratamento", "type": "nominal", "scale": {"range": ["#fff", "#fff"]}, "legend": {"title": null, "orient": "bottom", "direction": "vertical", "symbolType": "M-2,-0.465H2V0.465H-2Z", "symbolSize": 462.25, "symbolStrokeColor": "#111", "symbolStrokeWidth": 1, "symbolOffset": 25.5, "labelOffset": 18.5, "labelFont": "Liberation Serif", "labelFontSize": 18, "labelColor": "#000", "rowPadding": 4.5, "offset": 11,
"encode": {"symbols": {"update": {"shape": {"value": "M-2,-0.465H2V0.465H-2Z"}, "size": {"value": 462.25}, "stroke": {"value": "#111"}, "strokeWidth": {"value": 1}, "opacity": {"value": 1}, "fillOpacity": {"value": 1}, "strokeOpacity": {"value": 1}, "fill": {"condition": {"test": "datum.value === 'Sem Herbicida'", "value": {"gradient": "linear", "x1": 0, "y1": 0, "x2": 1.2135, "y2": 0.2822, "stops": [
{"offset":0,"color":"#fff"},{"offset":0.0055,"color":"#000"},{"offset":0.0218,"color":"#000"},{"offset":0.0273,"color":"#fff"},
{"offset":0.0909,"color":"#fff"},{"offset":0.0964,"color":"#000"},{"offset":0.1127,"color":"#000"},{"offset":0.1182,"color":"#fff"},
{"offset":0.1818,"color":"#fff"},{"offset":0.1873,"color":"#000"},{"offset":0.2036,"color":"#000"},{"offset":0.2091,"color":"#fff"},
{"offset":0.2727,"color":"#fff"},{"offset":0.2782,"color":"#000"},{"offset":0.2945,"color":"#000"},{"offset":0.3,"color":"#fff"},
{"offset":0.3636,"color":"#fff"},{"offset":0.3691,"color":"#000"},{"offset":0.3854,"color":"#000"},{"offset":0.3909,"color":"#fff"},
{"offset":0.4545,"color":"#fff"},{"offset":0.46,"color":"#000"},{"offset":0.4763,"color":"#000"},{"offset":0.4818,"color":"#fff"},
{"offset":0.5455,"color":"#fff"},{"offset":0.551,"color":"#000"},{"offset":0.5673,"color":"#000"},{"offset":0.5728,"color":"#fff"},
{"offset":0.6364,"color":"#fff"},{"offset":0.6419,"color":"#000"},{"offset":0.6582,"color":"#000"},{"offset":0.6637,"color":"#fff"},
{"offset":0.7273,"color":"#fff"},{"offset":0.7328,"color":"#000"},{"offset":0.7491,"color":"#000"},{"offset":0.7546,"color":"#fff"},
{"offset":0.8182,"color":"#fff"},{"offset":0.8237,"color":"#000"},{"offset":0.84,"color":"#000"},{"offset":0.8455,"color":"#fff"},
{"offset":0.9091,"color":"#fff"},{"offset":0.9146,"color":"#000"},{"offset":0.9309,"color":"#000"},{"offset":0.9364,"color":"#fff"},
{"offset":1,"color":"#fff"}]}}, "value": "#fff"}}}}}}
}
}
],
"config": {
"view": {"stroke": null},
"font": "Liberation Serif",
"axis": {"domainColor": "#000", "domainWidth": 1, "ticks": false, "grid": false, "labelFont": "Liberation Serif", "labelFontSize": 18, "labelColor": "#000", "titleFont": "Liberation Serif", "titleFontSize": 18, "titleFontWeight": "normal", "titleColor": "#000"}
}
}
